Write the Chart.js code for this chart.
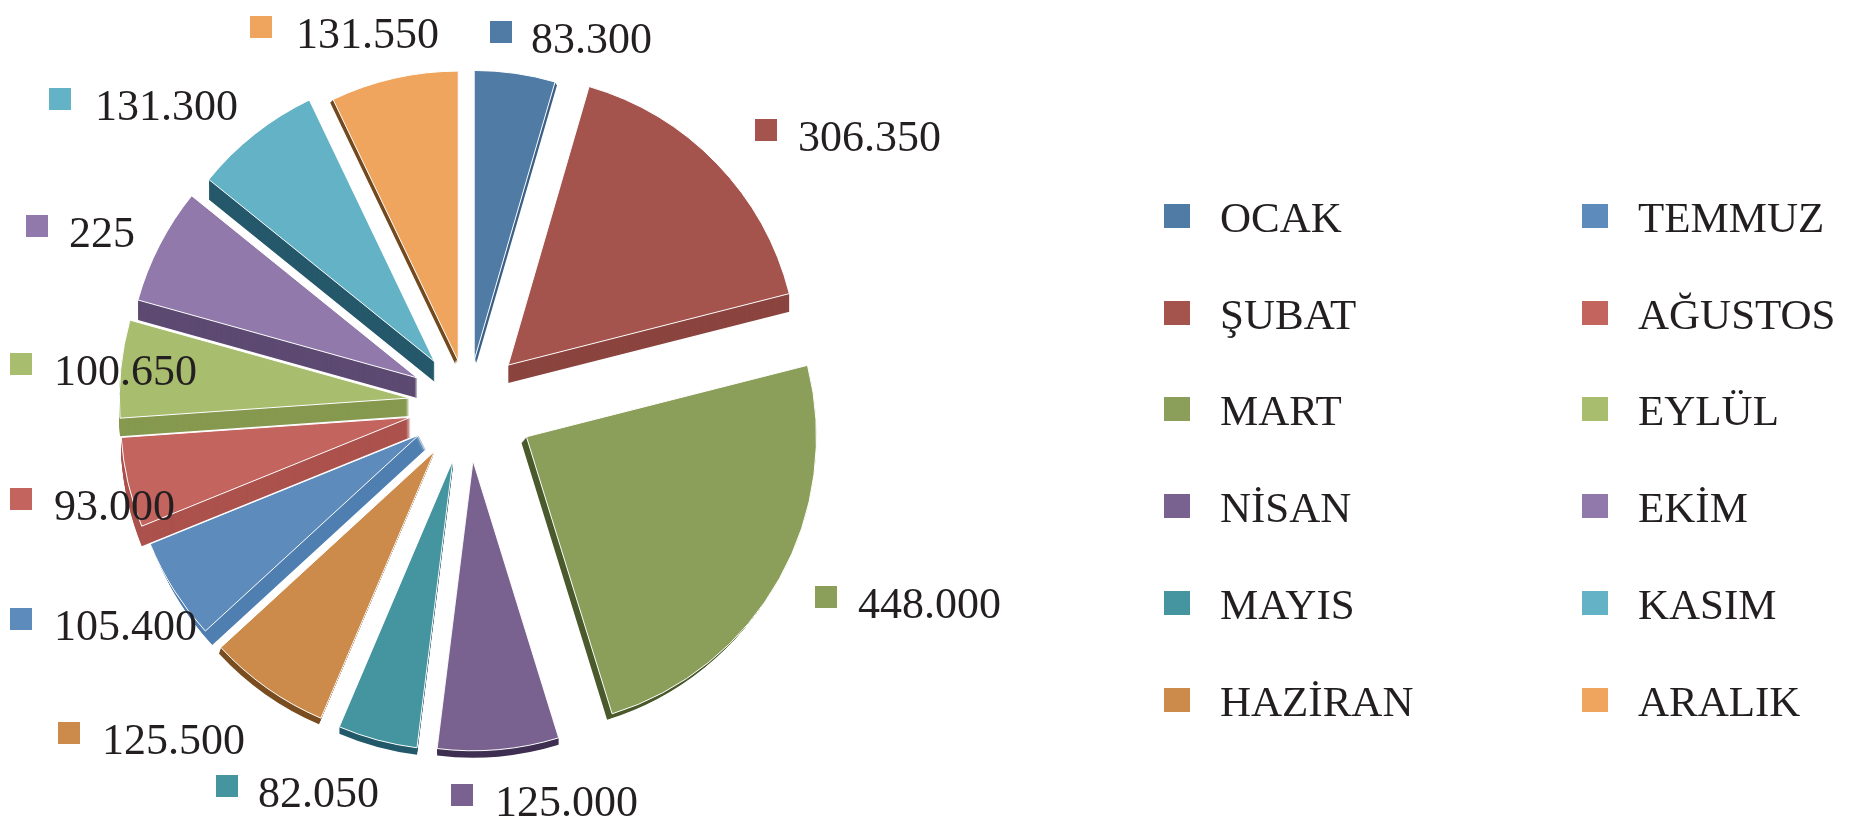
<!DOCTYPE html>
<html lang="tr">
<head>
<meta charset="utf-8">
<title>Aylara göre dağılım</title>
<script src="https://cdn.jsdelivr.net/npm/chart.js@4"></script>
<style>
  html, body { margin: 0; background: #fff; overflow: hidden; }
  #wrap { position: relative; width: 1853px; height: 824px; }
  #legend { position: absolute; inset: 0; pointer-events: none; font: 43px "Liberation Serif", serif; color: #231f20; }
  #legend .item { position: absolute; white-space: nowrap; line-height: 44px; height: 44px; }
  #legend .box { position: absolute; left: 0; top: 8px; width: 26px; height: 24px; }
  #legend .txt { position: absolute; left: 56px; top: 0; }
</style>
</head>
<body>
<div id="wrap">
  <canvas id="chartAylar" width="1853" height="824"></canvas>
  <div id="legend"></div>
</div>
<script>
const months = ['OCAK', 'ŞUBAT', 'MART', 'NİSAN', 'MAYIS', 'HAZİRAN', 'TEMMUZ', 'AĞUSTOS', 'EYLÜL', 'EKİM', 'KASIM', 'ARALIK'];
// EKİM is printed as 225 but its slice is drawn far bigger, so the size is estimated from the picture
const values = [83300, 306350, 448000, 125000, 82050, 125500, 105400, 93000, 100650, 120000, 131300, 131550];
const valueLabels = ['83.300', '306.350', '448.000', '125.000', '82.050', '125.500', '105.400', '93.000', '100.650', '225', '131.300', '131.550'];

const colors = ['#4f7ba5', '#a5534d', '#8b9f5a', '#7a6290', '#44959f', '#cc8b4a', '#5d8bbc', '#c4645f', '#a8bd6e', '#917aab', '#63b2c6', '#efa55d'];
const wallColors = ['#3c6086', '#8b443f', '#4b5a2c', '#3f2f52', '#235a6a', '#7a4d20', '#4f7fb0', '#ac524d', '#86994f', '#5d4a72', '#25586a', '#734a1f'];
const explode = [44, 56, 67, 57, 58, 58, 58, 59, 59, 57, 54, 44];
const wallShift = [[2, 3], [0, 18], [-5, 6], [0, 7], [0, 7], [-2, 6], [7, 14], [0, 20], [0, 18], [0, 20], [0, 20], [-3, 3]];

// square centre x, y and text left x for every value label
const labelBoxes = [[501, 32, 531], [766, 130, 798], [826, 597, 858], [462, 795, 495], [227, 786, 258], [69, 733, 102],
  [21, 619, 54], [21, 499, 54], [21, 364, 54], [37, 226, 69], [60, 99, 95], [261, 27, 296]];
const legendCols = [1164, 1582];
const legendRows = [216, 313, 409, 506, 603, 700];

// ---- exploded slices with side walls, the stock arc offset also grows the radius ----
function drawArcMoved(ctx, arc, i, dx, dy) {
  const mid = (arc.startAngle + arc.endAngle) / 2;
  ctx.save();
  ctx.translate(Math.cos(mid) * explode[i] + dx, Math.sin(mid) * explode[i] + dy);
  arc.draw(ctx);
  ctx.restore();
}

const slicesPlugin = {
  id: 'slices',
  beforeDatasetDraw(chart) {
    const ctx = chart.ctx;
    const arcs = chart.getDatasetMeta(0).data;
    arcs.forEach((arc, i) => {
      const [dx, dy] = wallShift[i];
      const steps = Math.max(Math.abs(dx), Math.abs(dy));
      const orig = arc.options;
      arc.options = Object.assign({}, orig, { backgroundColor: wallColors[i], borderWidth: 0 });
      for (let s = steps; s >= 1; s--) drawArcMoved(ctx, arc, i, dx * s / steps, dy * s / steps);
      arc.options = orig;
    });
    arcs.forEach((arc, i) => drawArcMoved(ctx, arc, i, 0, 0));
    return false;
  }
};

// ---- value labels with their colour square ----
const valueLabelsPlugin = {
  id: 'valueLabels',
  afterDatasetsDraw(chart) {
    const ctx = chart.ctx;
    ctx.save();
    ctx.font = '44px "Liberation Serif", serif';
    ctx.textBaseline = 'middle';
    ctx.textAlign = 'left';
    valueLabels.forEach((txt, i) => {
      const [x, y, tx] = labelBoxes[i];
      ctx.fillStyle = colors[i];
      ctx.fillRect(x - 11, y - 11, 22, 22);
      ctx.fillStyle = '#231f20';
      ctx.fillText(txt, tx, y + 9);
    });
    ctx.restore();
  }
};

new Chart(document.getElementById('chartAylar'), {
  type: 'pie',
  data: {
    labels: months,
    datasets: [{
      data: values,
      backgroundColor: colors,
      borderColor: '#fff',
      borderWidth: 1
    }]
  },
  options: {
    responsive: false,
    animation: false,
    radius: 290,
    layout: { padding: { left: 0, right: 917, top: 0, bottom: 16 } },
    plugins: { legend: { display: false }, tooltip: { enabled: false } }
  },
  plugins: [slicesPlugin, valueLabelsPlugin]
});

// ---- html legend, two columns of six ----
const legendBox = document.getElementById('legend');
months.forEach((m, i) => {
  const col = Math.floor(i / 6), row = i % 6;
  const item = document.createElement('div');
  item.className = 'item';
  item.style.left = legendCols[col] + 'px';
  item.style.top = (legendRows[row] - 20) + 'px';
  item.innerHTML = `<span class="box" style="background:${colors[i]}"></span><span class="txt">${m}</span>`;
  legendBox.appendChild(item);
});
</script>
</body>
</html>
